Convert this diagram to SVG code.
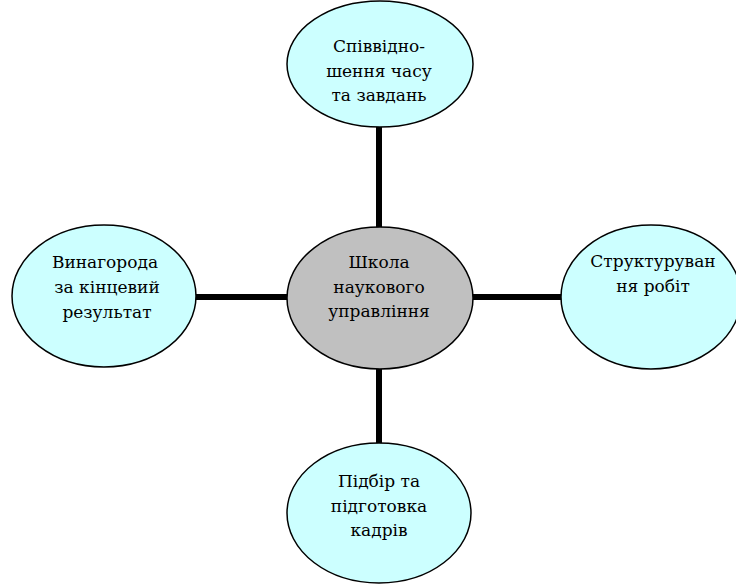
<svg xmlns="http://www.w3.org/2000/svg" width="736" height="584" viewBox="0 0 736 584">
  <style>
    .bg { fill: #ffffff; }
    .node { fill: #ccffff; stroke: #000000; stroke-width: 1.5; }
    .hub { fill: #c0c0c0; stroke: #000000; stroke-width: 1.5; }
    .link { stroke: #000000; stroke-width: 6; fill: none; }
    .label { font-family: "DejaVu Serif", serif; font-size: 17px; fill: #000000; text-anchor: middle; }
  </style>
  <rect class="bg" x="0" y="0" width="736" height="584"/>

  <!-- spokes joining the hub to each satellite -->
  <g id="connectors">
    <line class="link" x1="379" y1="126" x2="379" y2="230"/>
    <line class="link" x1="379" y1="368" x2="379" y2="446"/>
    <line class="link" x1="194" y1="297" x2="289" y2="297"/>
    <line class="link" x1="471" y1="297" x2="563" y2="297"/>
  </g>

  <g id="node-top">
    <ellipse class="node" cx="380" cy="64" rx="93" ry="63"/>
    <text class="label" x="379" y="52">Співвідно-</text>
    <text class="label" x="379" y="77">шення часу</text>
    <text class="label" x="379" y="101">та завдань</text>
  </g>

  <g id="node-center">
    <ellipse class="hub" cx="380" cy="298" rx="93" ry="71"/>
    <text class="label" x="379" y="268">Школа</text>
    <text class="label" x="379" y="293">наукового</text>
    <text class="label" x="379" y="317">управління</text>
  </g>

  <g id="node-left">
    <ellipse class="node" cx="104" cy="296" rx="92" ry="71"/>
    <text class="label" x="105" y="268">Винагорода</text>
    <text class="label" x="107" y="293">за кінцевий</text>
    <text class="label" x="107" y="318">результат</text>
  </g>

  <g id="node-right">
    <ellipse class="node" cx="651" cy="297" rx="90" ry="72"/>
    <text class="label" x="653" y="267">Структуруван</text>
    <text class="label" x="653" y="292">ня робіт</text>
  </g>

  <g id="node-bottom">
    <ellipse class="node" cx="379" cy="513" rx="92" ry="70"/>
    <text class="label" x="379" y="487">Підбір та</text>
    <text class="label" x="379" y="512">підготовка</text>
    <text class="label" x="379" y="536">кадрів</text>
  </g>
</svg>
